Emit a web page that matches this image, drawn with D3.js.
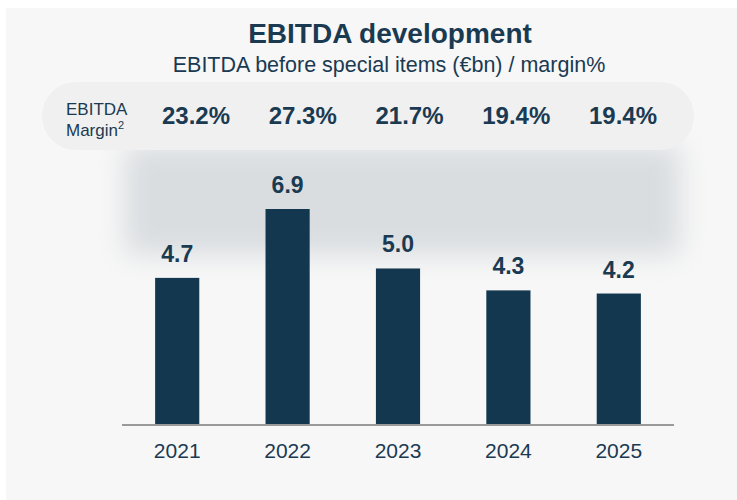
<!DOCTYPE html>
<html><head><meta charset="utf-8">
<script src="https://cdn.jsdelivr.net/npm/d3@7"></script>
<style>
html,body{margin:0;padding:0;background:#ffffff;}
svg{display:block;font-family:"Liberation Sans",Arial,sans-serif;}
</style></head>
<body>
<svg id="chart" width="737" height="500"></svg>
<script>
const years = ["2021","2022","2023","2024","2025"];
const ebitda = [4.7, 6.9, 5.0, 4.3, 4.2];
const margins = ["23.2%","27.3%","21.7%","19.4%","19.4%"];
const titleText = "EBITDA development";
const subtitleText = "EBITDA before special items (€bn) / margin%";

const W = 737, H = 500;
const navy = "#12374f", textCol = "#1a3a52";
const svg = d3.select("#chart");
const defs = svg.append("defs");
defs.append("filter").attr("id","blur").attr("x","-30%").attr("y","-50%").attr("width","160%").attr("height","200%")
  .append("feGaussianBlur").attr("stdDeviation", 14);

// panel
svg.append("rect").attr("x",6).attr("y",8).attr("width",W-6).attr("height",H-8).attr("fill","#f7f7f7");

// soft shaded band behind bars
svg.append("rect").attr("x",125).attr("y",145).attr("width",555).attr("height",110)
  .attr("fill","#d9dde0").attr("filter","url(#blur)");
// margin pill
svg.append("rect").attr("x",42).attr("y",82).attr("width",652).attr("height",68).attr("rx",34)
  .attr("fill","#f0f0f0");

const baseY = 425;
const x = d3.scaleBand().domain(years).range([122, 674]).paddingInner(0.6).paddingOuter(0.3);
const y = d3.scaleLinear().domain([0, 6.9]).range([baseY, 209]);

// title
svg.append("text").attr("x",390).attr("y",43).attr("text-anchor","middle")
  .attr("font-size",28).attr("font-weight","bold").attr("fill",textCol).text(titleText);
svg.append("text").attr("x",389).attr("y",72).attr("text-anchor","middle")
  .attr("font-size",21.5).attr("fill",textCol).text(subtitleText);

// margin row label
const lab = svg.append("text").attr("font-size",17).attr("fill",textCol);
lab.append("tspan").attr("x",66).attr("y",115).text("EBITDA");
lab.append("tspan").attr("x",66).attr("y",136).text("Margin");
lab.append("tspan").attr("font-size",11).attr("dy",-7).text("2");

// margin values
const mx = d3.scalePoint().domain(years).range([196, 623]);
svg.selectAll("text.margin").data(years).join("text").attr("class","margin")
  .attr("x", d => mx(d)).attr("y",124).attr("text-anchor","middle")
  .attr("font-size",24).attr("font-weight","bold").attr("fill",textCol)
  .text((d,i) => margins[i]);

// bars
svg.selectAll("rect.bar").data(years).join("rect").attr("class","bar")
  .attr("x", d => x(d)).attr("width", x.bandwidth())
  .attr("y", (d,i) => y(ebitda[i])).attr("height", (d,i) => baseY - y(ebitda[i]))
  .attr("fill", navy);

// value labels
svg.selectAll("text.val").data(years).join("text").attr("class","val")
  .attr("x", d => x(d) + x.bandwidth()/2).attr("y", (d,i) => y(ebitda[i]) - 16)
  .attr("text-anchor","middle").attr("font-size",23).attr("font-weight","bold").attr("fill",textCol)
  .text((d,i) => ebitda[i].toFixed(1));

// axis
const axis = svg.append("g").attr("transform",`translate(0,${baseY})`)
  .call(d3.axisBottom(x).tickSize(0).tickPadding(18));
axis.select(".domain").attr("stroke","#9a9a9a").attr("stroke-width",2).attr("d","M122,0H674");
axis.selectAll("text").attr("font-size",21).attr("fill",textCol).attr("font-family","Liberation Sans, Arial, sans-serif");
</script>
</body></html>
